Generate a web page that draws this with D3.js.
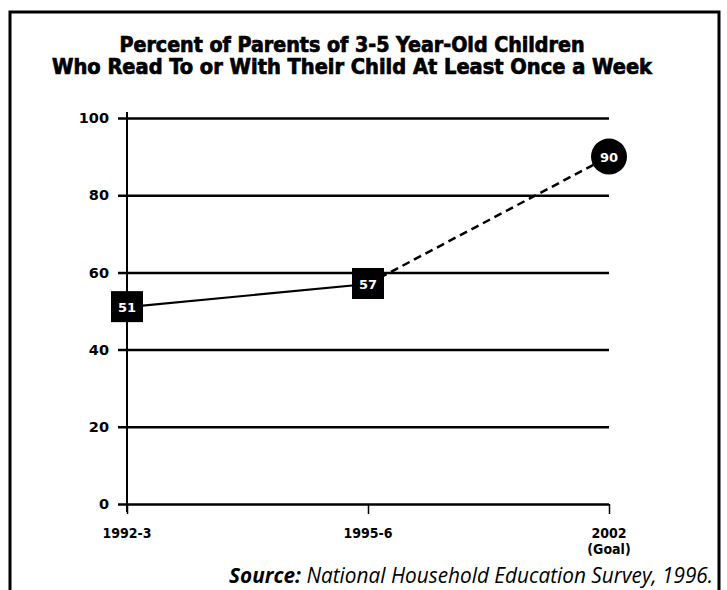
<!DOCTYPE html>
<html>
<head>
<meta charset="utf-8">
<script src="https://cdn.jsdelivr.net/npm/d3@7/dist/d3.min.js"></script>
<style>
html,body{margin:0;padding:0;background:#fff;}
svg{display:block;}
</style>
</head>
<body>
<svg id="chart" width="727" height="590"></svg>
<script>
const categories = ["1992-3", "1995-6", "2002"];
const categorySub = ["", "", "(Goal)"];
const values = [51, 57, 90];
const yTicks = [0, 20, 40, 60, 80, 100];
const titleLines = ["Percent of Parents of 3-5 Year-Old Children", "Who Read To or With Their Child At Least Once a Week"];

const svg = d3.select("#chart");
const W = 727, H = 590;

// frame
svg.append("path")
  .attr("d", `M10,${H} L10,12 L719,12 L719,${H}`)
  .attr("fill", "none").attr("stroke", "#000").attr("stroke-width", 3);

// title
const titleFont = "'DejaVu Sans Condensed','DejaVu Sans',sans-serif";
svg.selectAll("text.title").data(titleLines).join("text")
  .attr("class", "title")
  .attr("x", 352).attr("y", (d, i) => 52 + i * 22)
  .attr("text-anchor", "middle")
  .attr("font-family", titleFont).attr("font-weight", "bold")
  .attr("font-size", 21)
  .attr("stroke", "#000").attr("stroke-width", 0.7)
  .attr("textLength", (d, i) => i === 0 ? 465 : 600)
  .attr("lengthAdjust", "spacingAndGlyphs")
  .text(d => d);

const x = d3.scalePoint().domain(categories).range([127, 609]);
const y = d3.scaleLinear().domain([0, 100]).range([504, 118]);

// y axis with gridlines
const yAxis = d3.axisLeft(y).tickValues(yTicks).tickSize(-(609 - 118)).tickPadding(9).tickSizeOuter(0);
const gy = svg.append("g").attr("transform", "translate(118,0)").call(yAxis);
gy.select(".domain").remove();
gy.selectAll(".tick line").attr("stroke", "#000").attr("stroke-width", 2.5);
gy.selectAll(".tick text")
  .attr("font-family", "'DejaVu Sans',sans-serif").attr("font-weight", "bold")
  .attr("font-size", 14.5).attr("fill", "#000");

// vertical axis line
svg.append("line")
  .attr("x1", 127).attr("x2", 127).attr("y1", 112).attr("y2", y(0) + 8)
  .attr("stroke", "#000").attr("stroke-width", 2);

// x axis ticks and labels
const xAxis = d3.axisBottom(x).tickSize(10).tickPadding(6).tickSizeOuter(0);
const gx = svg.append("g").attr("transform", `translate(0,${y(0)})`).call(xAxis);
gx.select(".domain").remove();
gx.selectAll(".tick line").attr("stroke", "#000").attr("stroke-width", 1.5);
gx.selectAll(".tick text").remove();
const lbl = svg.append("g");
categories.forEach((c, i) => {
  const t = lbl.append("text")
    .attr("x", x(c)).attr("y", 538)
    .attr("text-anchor", "middle")
    .attr("font-family", "'DejaVu Sans Condensed','DejaVu Sans',sans-serif").attr("font-weight", "bold")
    .attr("font-size", 14).attr("fill", "#000");
  t.append("tspan").attr("x", x(c)).text(c);
  if (categorySub[i]) t.append("tspan").attr("x", x(c)).attr("dy", 16).text(categorySub[i]);
});

// lines
const pts = categories.map((c, i) => [x(c), y(values[i])]);
svg.append("path")
  .attr("d", d3.line()(pts.slice(0, 2)))
  .attr("stroke", "#000").attr("stroke-width", 2.2).attr("fill", "none");
svg.append("path")
  .attr("d", d3.line()(pts.slice(1, 3)))
  .attr("stroke", "#000").attr("stroke-width", 2.5).attr("fill", "none")
  .attr("stroke-dasharray", "8,5");

// markers
const bs = 32;
pts.forEach((p, i) => {
  if (i < 2) {
    svg.append("rect")
      .attr("x", p[0] - bs / 2).attr("y", p[1] - bs / 2)
      .attr("width", bs).attr("height", bs - 1).attr("fill", "#000");
  } else {
    svg.append("circle").attr("cx", p[0]).attr("cy", p[1]).attr("r", 18).attr("fill", "#000");
  }
  svg.append("text")
    .attr("x", p[0]).attr("y", p[1] + 5)
    .attr("text-anchor", "middle")
    .attr("font-family", "'DejaVu Sans',sans-serif").attr("font-weight", "bold")
    .attr("font-size", 13).attr("fill", "#fff")
    .text(values[i]);
});

// source
const src = svg.append("text")
  .attr("x", 713).attr("y", 583)
  .attr("text-anchor", "end")
  .attr("font-family", "'Open Sans','DejaVu Sans',sans-serif")
  .attr("font-style", "italic").attr("font-size", 21).attr("fill", "#000")
  .attr("textLength", 484).attr("lengthAdjust", "spacingAndGlyphs");
src.append("tspan").attr("font-weight", "bold").text("Source:");
src.append("tspan").text(" National Household Education Survey, 1996.");
</script>
</body>
</html>
